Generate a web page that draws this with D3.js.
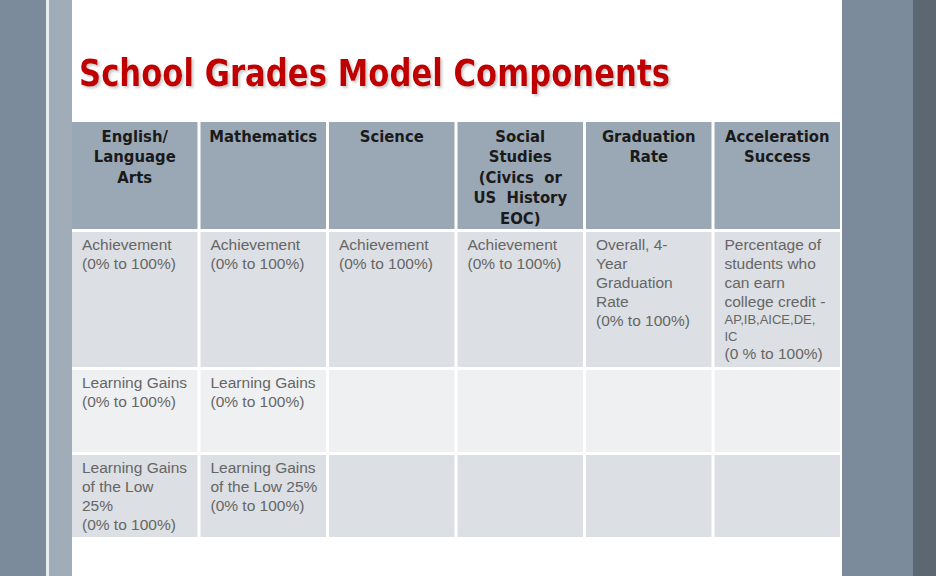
<!DOCTYPE html>
<html>
<head>
<meta charset="utf-8">
<script src="https://d3js.org/d3.v7.min.js"></script>
<style>
body { margin: 0; background: #fff; }
.title { font-family: "DejaVu Sans Condensed", "DejaVu Sans", sans-serif; font-weight: bold; }
.head text { font-family: "DejaVu Sans Condensed", "DejaVu Sans", sans-serif; font-size: 16.5px; font-weight: bold; fill: #1a1a1a; }
.body text { font-family: "Liberation Sans", Arial, sans-serif; font-size: 15.5px; fill: #666666; }
</style>
</head>
<body>
<div class="chart"></div>
<script>

// table content
var title = "School Grades Model Components";
var headers = ["English/\nLanguage\nArts", "Mathematics", "Science",
               "Social\nStudies\n(Civics  or\nUS  History\nEOC)", "Graduation\nRate", "Acceleration\nSuccess"];
var achievementRow = ["Achievement\n(0% to 100%)", "Achievement\n(0% to 100%)", "Achievement\n(0% to 100%)",
                      "Achievement\n(0% to 100%)", "Overall, 4-\nYear\nGraduation\nRate\n(0% to 100%)",
                      "Percentage of\nstudents who\ncan earn\ncollege credit -\nAP,IB,AICE,DE,\nIC\n(0 % to 100%)"];
var gainsRow = ["Learning Gains\n(0% to 100%)", "Learning Gains\n(0% to 100%)", "", "", "", ""];
var lowGainsRow = ["Learning Gains\nof the Low\n25%\n(0% to 100%)", "Learning Gains\nof the Low 25%\n(0% to 100%)", "", "", "", ""];
var smallLines = ["AP,IB,AICE,DE,", "IC"];

var width = 936, height = 576;

// table layout
var rowHeights = [107, 135, 82, 82],
    rowFills = ["#9aa8b5", "#dcdfe3", "#eef0f2", "#dcdfe3"],
    tableTop = 122, gap = 3;

var svg = d3.select(".chart").append("svg")
  .attr("width", width)
  .attr("height", height);

var defs = svg.append("defs");
defs.append("filter").attr("id", "shadow")
  .attr("x", "-5%").attr("y", "-20%").attr("width", "110%").attr("height", "150%")
  .append("feDropShadow")
  .attr("dx", 2).attr("dy", 2).attr("stdDeviation", 1)
  .attr("flood-color", "#999").attr("flood-opacity", 0.5);

// slide frame
var frame = [[0, 46, "#7b8b9b"], [46, 3, "#e9edf0"], [49, 23, "#a0adb9"],
             [72, 770, "#ffffff"], [842, 71, "#7b8b9b"], [913, 23, "#5c6771"]];
svg.selectAll("rect.frame").data(frame).enter().append("rect")
  .attr("class", "frame")
  .attr("x", function(d) { return d[0]; })
  .attr("width", function(d) { return d[1]; })
  .attr("y", 0).attr("height", height)
  .attr("fill", function(d) { return d[2]; });

// title
svg.append("text").attr("class", "title")
  .attr("x", 79).attr("y", 86)
  .attr("font-size", 37)
  .attr("textLength", 591).attr("lengthAdjust", "spacingAndGlyphs")
  .attr("fill", "#c00000")
  .attr("filter", "url(#shadow)")
  .text(title);

var x = d3.scaleBand()
  .domain(d3.range(headers.length))
  .range([72, 840])
  .paddingInner(gap / 128);

var rowTops = [];
rowHeights.reduce(function(acc, h) { rowTops.push(acc); return acc + h + gap; }, tableTop);

var rows = [headers, achievementRow, gainsRow, lowGainsRow];

rows.forEach(function(row, ri) {
  var g = svg.append("g").attr("class", ri === 0 ? "head" : "body");
  var cells = g.selectAll("g").data(row).enter().append("g");

  cells.append("rect")
    .attr("x", function(d, i) { return x(i); })
    .attr("y", rowTops[ri])
    .attr("width", x.bandwidth())
    .attr("height", rowHeights[ri])
    .attr("fill", rowFills[ri]);

  cells.each(function(d, i) {
    if (!d) return;
    var lines = d.split("\n");
    var t = d3.select(this).append("text");
    if (ri === 0) {
      t.attr("text-anchor", "middle");
      lines.forEach(function(l, k) {
        t.append("tspan")
          .attr("x", x(i) + x.bandwidth() / 2)
          .attr("y", rowTops[ri] + 20 + k * 20.4)
          .style("white-space", "pre")
          .text(l);
      });
    } else {
      var y = rowTops[ri] + 18;
      lines.forEach(function(l, k) {
        var small = smallLines.indexOf(l) >= 0;
        if (k > 0) y += small ? 17 : (smallLines.indexOf(lines[k - 1]) >= 0 ? 18 : 19);
        t.append("tspan")
          .attr("x", x(i) + 10)
          .attr("y", y)
          .style("font-size", small ? "13px" : null)
          .text(l);
      });
    }
  });
});

</script>
</body>
</html>
